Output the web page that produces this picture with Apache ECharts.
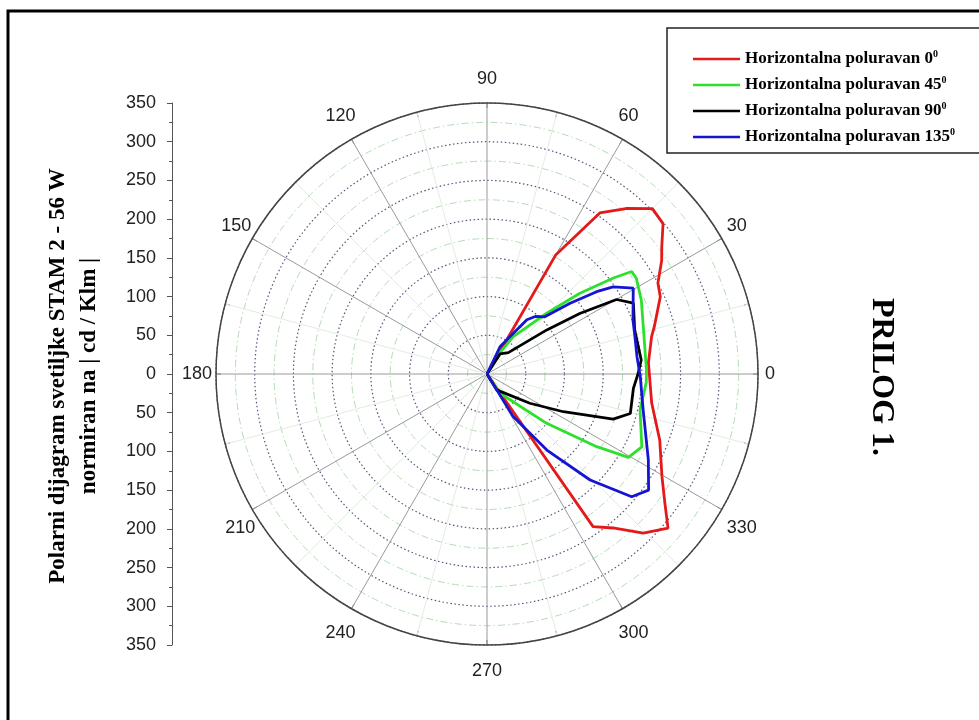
<!DOCTYPE html>
<html>
<head>
<meta charset="utf-8">
<script src="https://cdn.jsdelivr.net/npm/echarts@6/dist/echarts.min.js"></script>
<style>
  html, body { margin: 0; padding: 0; background: #fff; }
  #chart { width: 979px; height: 720px; }
</style>
</head>
<body>
<div id="chart"></div>
<script>
// polar intensity curves, angle in degrees (0 = right, counter-clockwise), radius in cd/klm
const seriesNames = [
  "Horizontalna poluravan 0",
  "Horizontalna poluravan 45",
  "Horizontalna poluravan 90",
  "Horizontalna poluravan 135",
];
const seriesColors = ["#e41a1a", "#2ee02e", "#000000", "#1414d2"];

const redAngle = [60, 60, 55, 50, 45, 40.5, 36, 33, 28, 24, 16, 12.8, 4, 359, 350, 339, 329.6, 324, 319.6, 314.5, 309.3, 304.8, 305];
const redR = [0, 178, 254, 279, 302, 299, 279, 269, 250, 245, 225, 218, 209, 210, 216, 239, 262, 284, 307, 288, 257, 240, 0];

const greenAngle = [60, 60.7, 54.8, 45.5, 41, 37.2, 35.3, 32.6, 25.6, 15.7, 1.4, 357, 346.8, 334.8, 329.5, 326.5, 320.4, 304, 304];
const greenR = [0, 26, 59, 110, 159, 205, 229, 229, 221, 210, 206, 206, 203, 221, 212, 170, 100, 30, 0];

const blackAngle = [60, 57, 45, 36.4, 33.1, 29.9, 25.8, 16.6, 5.2, 0, 354.4, 344.6, 340.3, 333.7, 325.7, 301.2, 300];
const blackR = [0, 31, 39, 96, 143, 193, 210, 199, 200, 195, 190, 192, 173, 110, 67, 24, 0];

const blueAngle = [62, 64.5, 53.7, 50, 44.7, 40.4, 36.9, 34.6, 30.4, 20.3, 14.1, 6.6, 359, 347, 332, 324.3, 319.7, 314.2, 308.2, 301.6, 300];
const blueR = [0, 39, 87, 97, 105, 141, 177, 198, 219, 201, 197, 195, 198, 207, 236, 257, 245, 191, 125, 65, 0];

const rMax = 350;
const rStep = 50;
const angleStep = 30;

// extra spacing of each angle label from its anchor [top, right, bottom, left]
const labelPad = {
  0: [0, 0, 0, 15],
  30: [0, 0, 7, 12],
  60: [0, 0, 21, 0],
  90: [0, 0, 23, 0],
  120: [0, 0, 21, 0],
  150: [0, 8, 7, 0],
  180: [0, 12, 0, 0],
  210: [14, 4, 0, 0],
  240: [22, 0, 0, 0],
  270: [25, 0, 0, 0],
  300: [22, 0, 0, 0],
  330: [14, 0, 0, 12],
};

const chart = echarts.init(document.getElementById("chart"));

const toPolar = (angles, radii) => angles.map((a, i) => [radii[i], a]);
const curves = [
  toPolar(redAngle, redR),
  toPolar(greenAngle, greenR),
  toPolar(blackAngle, blackR),
  toPolar(blueAngle, blueR),
];

const cx = 487;
const cy = 374;
const radiusPx = 271;

const labelRich = {};
Object.keys(labelPad).forEach((k) => {
  labelRich["a" + k] = {
    fontSize: 18,
    fontFamily: "Liberation Sans",
    color: "#222",
    padding: labelPad[k],
  };
});

chart.setOption({
  animation: false,
  backgroundColor: "#fff",
  polar: {
    center: [cx, cy],
    radius: radiusPx,
  },
  angleAxis: {
    type: "value",
    min: 0,
    max: 360,
    interval: angleStep,
    startAngle: 0,
    clockwise: false,
    axisLine: { lineStyle: { color: "#444", width: 1.5 } },
    axisTick: { show: true, inside: true, length: 5, lineStyle: { color: "#666" } },
    minorTick: { show: true, splitNumber: 2, length: 5, lineStyle: { color: "#666" } },
    axisLabel: {
      margin: -8,
      formatter: (v) => (v === 360 ? "" : "{a" + v + "|" + v + "}"),
      rich: labelRich,
    },
    splitLine: { show: true, lineStyle: { color: "#9a9a9a", width: 1 } },
    minorSplitLine: { show: true, lineStyle: { color: "#e3ece3", width: 1 } },
  },
  radiusAxis: {
    type: "value",
    min: 0,
    max: rMax,
    interval: rStep,
    axisLine: { show: false },
    axisTick: { show: false },
    axisLabel: { show: false },
    splitLine: { show: true, lineStyle: { color: "#55557a", width: 1.2, type: [1.5, 2.5] } },
    minorTick: { show: false, splitNumber: 2 },
    minorSplitLine: { show: true, lineStyle: { color: "#b6dcb6", width: 1, type: [7, 3, 1.5, 3] } },
  },
  grid: { left: 172, top: cy - radiusPx, height: radiusPx * 2, width: 1 },
  xAxis: { type: "value", show: false },
  yAxis: {
    type: "value",
    min: -rMax,
    max: rMax,
    interval: rStep,
    axisLine: { show: true, lineStyle: { color: "#555" } },
    axisTick: { show: true, length: 5, lineStyle: { color: "#555" } },
    minorTick: { show: true, splitNumber: 2, length: 3, lineStyle: { color: "#555" } },
    splitLine: { show: false },
    axisLabel: {
      margin: 16,
      color: "#222",
      fontSize: 18,
      fontFamily: "Liberation Sans",
      formatter: (v) => String(Math.abs(v)),
    },
  },
  legend: {
    orient: "vertical",
    left: 688,
    top: 44,
    itemWidth: 47,
    itemHeight: 2.5,
    itemGap: 7.5,
    icon: "rect",
    data: seriesNames,
    formatter: (name) => "{t|" + name + "}{s|0}",
    textStyle: {
      rich: {
        t: { fontFamily: "Liberation Serif", fontWeight: "bold", fontSize: 17, color: "#000", lineHeight: 20 },
        s: { fontFamily: "Liberation Serif", fontWeight: "bold", fontSize: 10, color: "#000", lineHeight: 11, verticalAlign: "top" },
      },
    },
  },
  series: curves.map((d, i) => ({
    name: seriesNames[i],
    type: "line",
    coordinateSystem: "polar",
    data: d,
    symbol: "none",
    color: seriesColors[i],
    lineStyle: { width: 2.8, color: seriesColors[i] },
    z: 3 + i,
  })),
  graphic: [
    {
      type: "rect",
      shape: { x: 8, y: 11, width: 1200, height: 1000 },
      style: { fill: "none", stroke: "#000", lineWidth: 3 },
      silent: true,
    },
    {
      type: "rect",
      shape: { x: 667, y: 28, width: 400, height: 125 },
      style: { fill: "none", stroke: "#222", lineWidth: 1.5 },
      silent: true,
    },
    {
      type: "text",
      x: 58,
      y: 376,
      rotation: Math.PI / 2,
      style: {
        text: "Polarni dijagram svetiljke STAM 2 - 56 W",
        font: "bold 23px 'Liberation Serif'",
        fill: "#000",
        textAlign: "center",
        textVerticalAlign: "middle",
      },
    },
    {
      type: "text",
      x: 89,
      y: 376,
      rotation: Math.PI / 2,
      style: {
        text: "normiran na | cd / Klm |",
        font: "bold 23px 'Liberation Serif'",
        fill: "#000",
        textAlign: "center",
        textVerticalAlign: "middle",
      },
    },
    {
      type: "text",
      x: 881,
      y: 377,
      rotation: -Math.PI / 2,
      style: {
        text: "PRILOG 1.",
        font: "bold 32px 'Liberation Serif'",
        fill: "#000",
        textAlign: "center",
        textVerticalAlign: "middle",
      },
    },
  ],
});
</script>
</body>
</html>
